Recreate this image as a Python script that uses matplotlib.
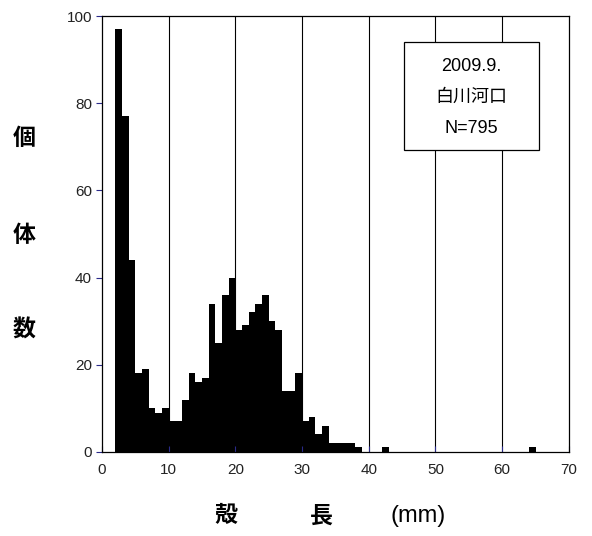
import numpy as np
import matplotlib
matplotlib.use('Agg')
import matplotlib.pyplot as plt
from matplotlib.patches import Rectangle

plt.rcParams['font.family'] = ['Liberation Sans', 'Noto Sans CJK JP', 'DejaVu Sans']

# shell length bins (mm, left edge) and individual counts
bin_left = [2, 3, 4, 5, 6, 7, 8, 9, 10, 11, 12, 13, 14, 15, 16, 17, 18, 19, 20, 21,
            22, 23, 24, 25, 26, 27, 28, 29, 30, 31, 32, 33, 34, 35, 36, 37, 38, 42, 64]
counts = [97, 77, 44, 18, 19, 10, 9, 10, 7, 7, 12, 18, 16, 17, 34, 25, 36, 40, 28, 29,
          32, 34, 36, 30, 28, 14, 14, 18, 7, 8, 4, 6, 2, 2, 2, 2, 1, 1, 1]

xticks = [0, 10, 20, 30, 40, 50, 60, 70]
yticks = [0, 20, 40, 60, 80, 100]
info_lines = ['2009.9.', '白川河口', 'N=795']

tick_col = '#2a2a8a'

fig = plt.figure(figsize=(5.92, 5.36), dpi=100)
ax = fig.add_axes([0.172, 0.157, 0.789, 0.813])

ax.bar(bin_left, counts, width=1, align='edge', color='black', linewidth=0, zorder=1)

# vertical grid lines
for gx in xticks[1:-1]:
    ax.axvline(gx, color='black', lw=0.8, zorder=0.5)

ax.set_xlim(0, 70)
ax.set_ylim(0, 100)
ax.set_xticks(xticks)
ax.set_yticks(yticks)
ax.tick_params(axis='x', direction='in', length=4, color=tick_col, labelsize=11, pad=8, labelcolor='#222222')
ax.tick_params(axis='y', direction='out', length=4, color=tick_col, labelsize=11, pad=3, labelcolor='#222222')
for s in ax.spines.values():
    s.set_color('black')
    s.set_linewidth(0.9)

# info box
ax.add_patch(Rectangle((0.647, 0.693), 0.289, 0.248, transform=ax.transAxes,
                       facecolor='white', edgecolor='black', lw=0.9, zorder=3))
for i, line in enumerate(info_lines):
    ax.text(0.7915, 0.884 - i * 0.071, line, transform=ax.transAxes, ha='center', va='center',
            fontsize=13, zorder=4)

# y label (vertical characters)
for ch, yp in zip(['個', '体', '数'], [138, 236, 330]):
    fig.text(24 / 592, 1 - yp / 536, ch, ha='center', va='center', fontsize=16.5, fontweight='bold',
             family=['Noto Sans CJK JP'])

# x label
fig.text(226 / 592, 1 - 516 / 536, '殻', ha='center', va='center', fontsize=16.5, fontweight='bold',
         family=['Noto Sans CJK JP'])
fig.text(321 / 592, 1 - 516 / 536, '長', ha='center', va='center', fontsize=16.5, fontweight='bold',
         family=['Noto Sans CJK JP'])
fig.text(418 / 592, 1 - 516 / 536, '(mm)', ha='center', va='center', fontsize=17)

fig.savefig('out.png', dpi=100)
